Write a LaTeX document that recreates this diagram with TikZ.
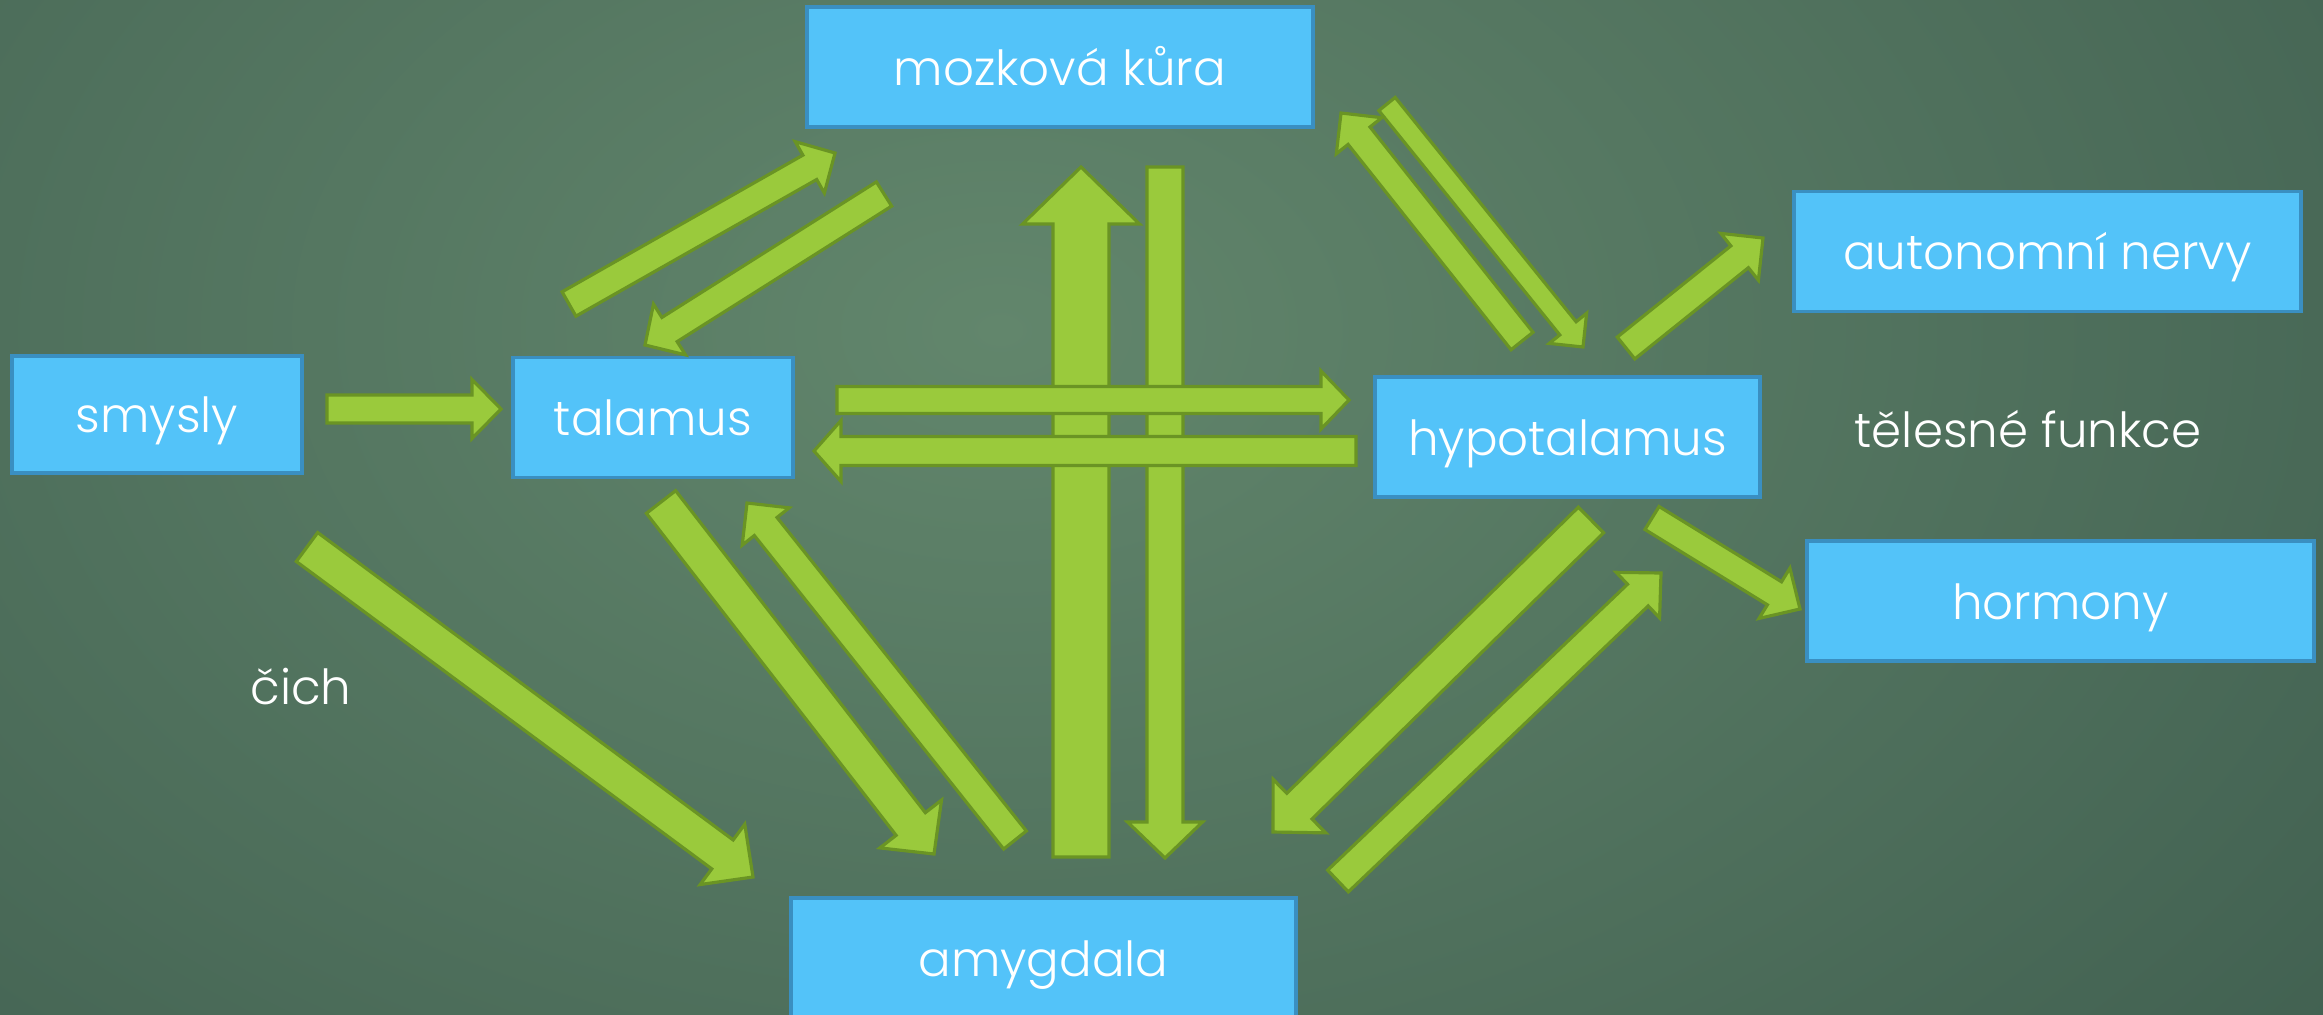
\documentclass[tikz,border=0pt]{standalone}
\usepackage{fontspec}
\setmainfont{Poppins Light}
\usetikzlibrary{calc}
\definecolor{boxfill}{HTML}{53C3F9}
\definecolor{boxline}{HTML}{3A8FC1}
\definecolor{arrfill}{HTML}{9ACA3C}
\definecolor{arrline}{HTML}{6A9424}
\definecolor{bginner}{HTML}{62866C}
\definecolor{bgouter}{HTML}{335045}
\newcommand\blockarrow[5]{%
  \pgfmathsetmacro\baS{#3*0.15}%
  \pgfmathsetmacro\baH{#4*0.15}%
  \pgfmathsetmacro\baL{#5*0.3}%
  \path ($(#2)!\baL pt!(#1)$) coordinate (babase);
  \draw[barrow] ($(#1)!\baS pt!90:(#2)$) -- ($(babase)!\baS pt!90:(#2)$)
    -- ($(babase)!\baH pt!90:(#2)$) -- (#2) -- ($(babase)!\baH pt!-90:(#2)$)
    -- ($(babase)!\baS pt!-90:(#2)$) -- ($(#1)!\baS pt!-90:(#2)$) -- cycle;
}
\begin{document}
\begin{tikzpicture}[x=0.3pt,y=-0.3pt,
  box/.style={draw=boxline, fill=boxfill, line width=1.05pt, text=white,
    font=\fontsize{14.5}{17}\selectfont, text height=10.8pt, text depth=0pt,
    inner sep=0pt, minimum height=36pt},
  lbl/.style={text=white, font=\fontsize{14.5}{17}\selectfont, inner sep=0pt},
  barrow/.style={draw=arrline, fill=arrfill, line width=0.95pt, line join=miter}]
\useasboundingbox (0,0) rectangle (2323,1014);
\clip (0,0) rectangle (2323,1014);
\fill[bgouter] (0,0) rectangle (2323,1014);
\shade[inner color=bginner, outer color=bgouter] (1000,330) ellipse [x radius=740pt, y radius=500pt];

% boxes
\node[box, minimum width=151.8pt] (kura) at (1060,67) {mozková kůra};
\node[box, minimum width=87pt, minimum height=35.1pt] (smysly) at (157,414.5) {smysly};
\node[box, minimum width=84pt] (talamus) at (653,417.5) {talamus};
\node[box, minimum width=115.5pt] (hypo) at (1567.5,437) {hypotalamus};
\node[box, minimum width=152.1pt] (auto) at (2047.5,251.5) {autonomní nervy};
\node[box, minimum width=152.1pt] (horm) at (2060.5,601) {hormony};
\node[box, minimum width=151.5pt] (amyg) at (1043.5,958) {amygdala};
\node[lbl, anchor=base] (tf) at (2028,447) {tělesné funkce};
\node[lbl, anchor=base] (cich) at (301,704) {čich};

% arrow end points
\coordinate (t1) at (327,409);   \coordinate (h1) at (501,409);
\coordinate (t2) at (837,400);   \coordinate (h2) at (1349,400);
\coordinate (t3) at (1356,451);  \coordinate (h3) at (814,451);
\coordinate (t4) at (1081,857);  \coordinate (h4) at (1081,167);
\coordinate (t5) at (1165,167);  \coordinate (h5) at (1165,858);
\coordinate (t6) at (569,304);   \coordinate (h6) at (835,153);
\coordinate (t7) at (884,194);   \coordinate (h7) at (645,345);
\coordinate (t8) at (1522,341);  \coordinate (h8) at (1341,113);
\coordinate (t9) at (1387,104);  \coordinate (h9) at (1583,347);
\coordinate (t10) at (1626,348); \coordinate (h10) at (1763,238);
\coordinate (t11) at (1652,518); \coordinate (h11) at (1800,609);
\coordinate (t12) at (1591,520); \coordinate (h12) at (1273,832);
\coordinate (t13) at (1338,881); \coordinate (h13) at (1661,573);
\coordinate (t14) at (661,502);  \coordinate (h14) at (934,854);
\coordinate (t15) at (1015,840); \coordinate (h15) at (747,503);
\coordinate (t16) at (307,547);  \coordinate (h16) at (753,877);

% arrows
\blockarrow{t4}{h4}{56}{117}{57}
\blockarrow{t5}{h5}{36}{75}{36}
\blockarrow{t1}{h1}{28}{59}{29}
\blockarrow{t2}{h2}{27}{58}{28}
\blockarrow{t3}{h3}{29}{61}{27}
\blockarrow{t6}{h6}{28}{59}{29}
\blockarrow{t7}{h7}{28.6}{60}{29}
\blockarrow{t9}{h9}{21}{48}{24}
\blockarrow{t8}{h8}{28}{58}{29}
\blockarrow{t10}{h10}{28}{60}{30}
\blockarrow{t11}{h11}{27}{59}{30}
\blockarrow{t12}{h12}{36}{75}{37}
\blockarrow{t13}{h13}{30}{63}{32}
\blockarrow{t14}{h14}{37}{78}{38}
\blockarrow{t15}{h15}{29}{60}{30}
\blockarrow{t16}{h16}{36}{75}{38}
\end{tikzpicture}
\end{document}
